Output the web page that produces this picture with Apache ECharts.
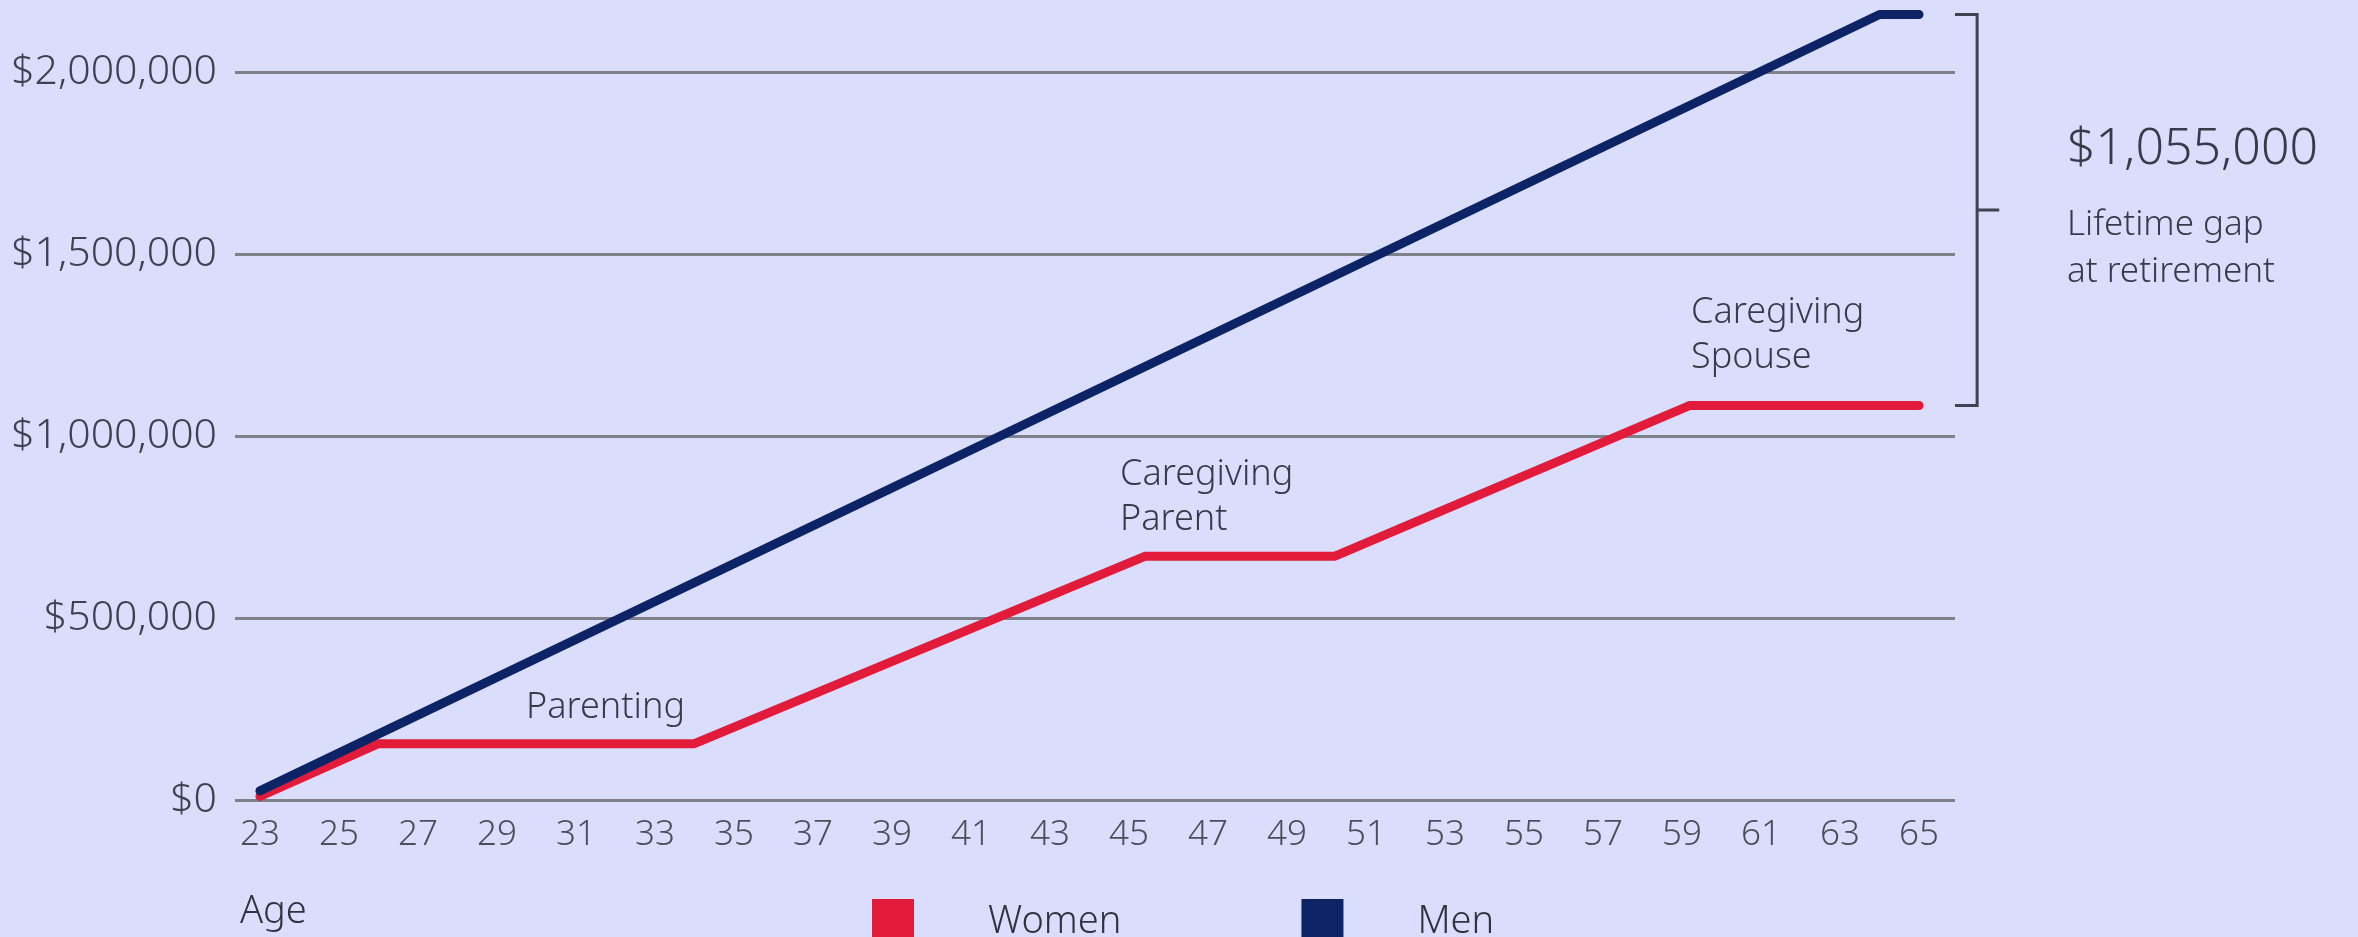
<!DOCTYPE html>
<html><head><meta charset="utf-8">
<script src="https://cdn.jsdelivr.net/npm/echarts@6/dist/echarts.min.js"></script>
<style>html,body{margin:0;padding:0;background:#dadefc;}#c{width:2358px;height:937px;}</style>
</head><body><div id="c"></div>
<script>
// ---- data ----
const ageTicks = [23,25,27,29,31,33,35,37,39,41,43,45,47,49,51,53,55,57,59,61,63,65];
const yTicks = [0, 500000, 1000000, 1500000, 2000000];
const womenData = [[23,10000],[26,155000],[34,155000],[45.4,670000],[50.2,670000],[59.2,1085000],[65,1085000]];
const menData = [[23,25000],[64,2160000],[65,2160000]];
const bracketAges = [65.91, 66.47, 67.03];          // tick start, spine, middle tick end
const bracketValues = [2160000, 1085000];           // top (men at 65), bottom (women at 65)
const gapValue = '$1,055,000';
const gapText = 'Lifetime gap\nat retirement';
const phaseLabels = ['Parenting', 'Caregiving\nParent', 'Caregiving\nSpouse'];

const FONT = '"Noto Sans", "Open Sans", sans-serif';
const TXT = '#363b49';
const chart = echarts.init(document.getElementById('c'), null, {renderer: 'canvas'});
const fmt = v => '$' + Number(v).toLocaleString('en-US');

const baseGraphics = [
  {type: 'text', left: 240, top: 893, style: {text: 'Age', font: '300 38px ' + FONT, fill: '#2e3340'}},
  {type: 'text', x: 526, y: 708, style: {text: phaseLabels[0], font: '300 36px ' + FONT, fill: TXT, verticalAlign: 'middle'}},
  {type: 'text', x: 1120, y: 497, style: {text: phaseLabels[1], font: '300 36px ' + FONT, lineHeight: 45, fill: TXT, verticalAlign: 'middle'}},
  {type: 'text', x: 1691, y: 335, style: {text: phaseLabels[2], font: '300 36px ' + FONT, lineHeight: 45, fill: TXT, verticalAlign: 'middle'}},
  {type: 'text', x: 2067, y: 150, style: {text: gapValue, font: '300 50px ' + FONT, fill: TXT, verticalAlign: 'middle'}},
  {type: 'text', x: 2067, y: 249, style: {text: gapText, font: '300 35px ' + FONT, lineHeight: 47, fill: TXT, verticalAlign: 'middle'}}
];

chart.setOption({
  backgroundColor: '#dadefc',
  animation: false,
  grid: {left: 235, right: 403, top: 0, bottom: 137, containLabel: false},
  xAxis: {
    type: 'value', min: 22.37, max: 65.91,
    axisLine: {show: false}, axisTick: {show: false}, splitLine: {show: false},
    axisLabel: {customValues: ageTicks, fontFamily: FONT, fontWeight: 300, fontSize: 35, color: '#4a4f5c', margin: 18}
  },
  yAxis: {
    type: 'value', min: 0, max: 2200000, interval: 500000,
    axisLine: {show: false}, axisTick: {show: false},
    axisLabel: {formatter: fmt, fontFamily: FONT, fontWeight: 300, fontSize: 41, color: '#3d4250', margin: 18, showMaxLabel: false},
    splitLine: {show: true, showMaxLine: false, lineStyle: {color: '#7e8189', width: 3}}
  },
  legend: {
    left: 867, top: 894, icon: 'rect', itemWidth: 42, itemHeight: 46, itemGap: 180,
    data: ['Women', 'Men'],
    textStyle: {fontFamily: FONT, fontWeight: 300, fontSize: 38, color: '#2e3340', padding: [0,0,0,69]}
  },
  series: [
    {name: 'Women', type: 'line', data: womenData, showSymbol: false, symbol: 'none',
     lineStyle: {color: '#e31b3b', width: 9, cap: 'round', join: 'round'}, itemStyle: {color: '#e31b3b'}, z: 3},
    {name: 'Men', type: 'line', data: menData, showSymbol: false, symbol: 'none',
     lineStyle: {color: '#0c2366', width: 9, cap: 'round', join: 'round'}, itemStyle: {color: '#0c2366'}, z: 4}
  ],
  graphic: baseGraphics
});

// bracket built from the axes' own scales
const px = a => chart.convertToPixel({xAxisIndex: 0}, a);
const py = v => chart.convertToPixel({yAxisIndex: 0}, v);
const x0 = px(bracketAges[0]), x1 = px(bracketAges[1]), x2 = px(bracketAges[2]);
const yTop = py(bracketValues[0]), yBot = py(bracketValues[1]), yMid = (yTop + yBot) / 2;
const bs = {stroke: '#3f4352', lineWidth: 3, fill: null};
chart.setOption({
  graphic: baseGraphics.concat([
    {type: 'polyline', shape: {points: [[x0, yTop], [x1, yTop], [x1, yBot], [x0, yBot]]}, style: bs, silent: true},
    {type: 'line', shape: {x1: x1, y1: yMid, x2: x2, y2: yMid}, style: bs, silent: true}
  ])
});
</script></body></html>
